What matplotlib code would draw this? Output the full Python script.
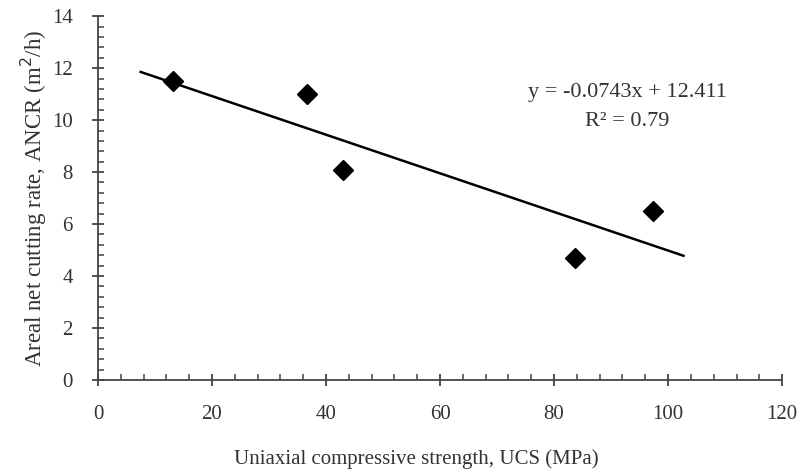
import matplotlib
matplotlib.use("Agg")
import matplotlib.pyplot as plt
from matplotlib.ticker import MultipleLocator, AutoMinorLocator

ucs = [13.1, 36.6, 43.0, 83.7, 97.4]
ancr = [11.5, 11.0, 8.08, 4.68, 6.51]
slope = -0.0743
intercept = 12.411
r2 = 0.79
trend_x = [7.5, 102.7]
trend_y = [slope * v + intercept for v in trend_x]

plt.rcParams['font.family'] = ['Liberation Serif', 'DejaVu Serif']
txt = '#333333'

fig = plt.figure(figsize=(8.03, 4.76), dpi=100)
ax = fig.add_axes([0.122, 0.2017, 0.852, 0.7643])

ax.plot(trend_x, trend_y, color='black', lw=1.8, zorder=2)
ax.plot(ucs, ancr, linestyle='none', marker='D', ms=10.5, color='black', zorder=3)

ax.set_xlim(0, 120)
ax.set_ylim(0, 14)
ax.xaxis.set_major_locator(MultipleLocator(20))
ax.yaxis.set_major_locator(MultipleLocator(2))
ax.xaxis.set_minor_locator(AutoMinorLocator(5))
ax.yaxis.set_minor_locator(AutoMinorLocator(5))

for s in ['top', 'right']:
    ax.spines[s].set_visible(False)
for s in ['left', 'bottom']:
    ax.spines[s].set_color('#444444')
    ax.spines[s].set_linewidth(1.3)

ax.tick_params(which='major', direction='inout', length=8, width=1.3, color='#444444',
               labelsize=15, labelcolor=txt)
ax.tick_params(axis='x', which='major', pad=14)
ax.tick_params(axis='y', which='major', pad=14)
ax.tick_params(which='minor', direction='in', length=4, width=1.1, color='#444444')

ax.set_xlabel('Uniaxial compressive strength, UCS (MPa)', fontsize=15, color=txt)
ax.xaxis.set_label_coords(0.466, -0.19)
ax.set_ylabel('Areal net cutting rate, ANCR (m$^{2}$/h)', fontsize=16.5, color=txt, labelpad=2)

ax.text(627 / 803, 1 - 93 / 476, f'y = {slope}x + {intercept}', transform=fig.transFigure,
        fontsize=16, color=txt, ha='center', va='center')
ax.text(627 / 803, 1 - 122 / 476, f'R² = {r2}', transform=fig.transFigure,
        fontsize=16, color=txt, ha='center', va='center')

fig.savefig('out.png', dpi=100)
